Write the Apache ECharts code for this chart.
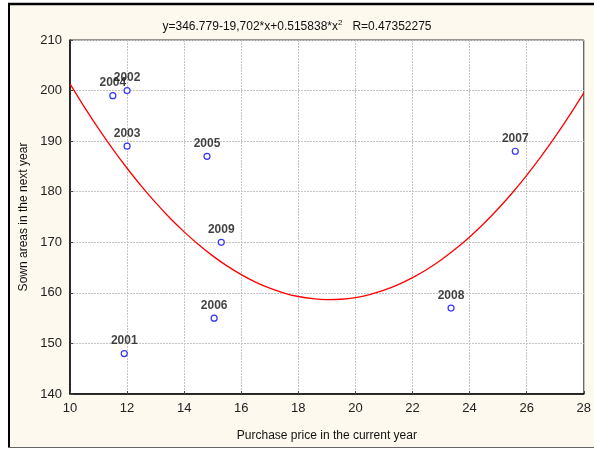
<!DOCTYPE html>
<html>
<head>
<meta charset="utf-8">
<script src="https://cdn.jsdelivr.net/npm/echarts@6/dist/echarts.min.js"></script>
<style>
html,body{margin:0;padding:0;background:#fff;}
#c{width:594px;height:449px;}
</style>
</head>
<body>
<div id="c"></div>
<script>
// Data
const years  = ['2001','2002','2003','2004','2005','2006','2007','2008','2009'];
const prices = [11.9, 12.0, 12.0, 11.5, 14.8, 15.05, 25.6, 23.35, 15.3];
const areas  = [148, 200, 189, 199, 187, 155, 188, 157, 170];

// Fitted curve values
const curveX = [10,10.5,11,11.5,12,12.5,13,13.5,14,14.5,15,15.5,16,16.5,17,17.5,18,18.5,19,19.5,20,20.5,21,21.5,22,22.5,23,23.5,24,24.5,25,25.5,26,26.5,27,27.5,28];
const curveY = [201.34,196.78,192.47,188.43,184.64,181.10,177.83,174.81,172.06,169.56,167.31,165.33,163.60,162.13,160.92,159.97,159.28,158.84,158.66,158.74,159.07,159.67,160.52,161.63,163.00,164.63,166.51,168.65,171.05,173.71,176.63,179.80,183.23,186.92,190.87,195.08,199.54];

const xTicks = [10,12,14,16,18,20,22,24,26,28];
const yTicks = [140,150,160,170,180,190,200,210];

const titleText = 'y=346.779-19,702*x+0.515838*x';
const titleSup = '2';
const titleR = '   R=0.47352275';

const points = years.map((y, i) => [prices[i], areas[i], y]);
const curve = curveX.map((x, i) => [x, curveY[i]]);

const FONT = '"Liberation Sans", Arial, sans-serif';
const chart = echarts.init(document.getElementById('c'), null, {renderer: 'canvas'});
chart.setOption({
  backgroundColor: '#ffffff',
  animation: false,
  graphic: [
    {type: 'rect', z: -10, shape: {x: 9, y: 4, width: 585, height: 443}, style: {fill: '#FDF9EE'}},
    {type: 'line', z: -9, shape: {x1: 9, y1: 3, x2: 9, y2: 447}, style: {stroke: '#000', lineWidth: 2}},
    {type: 'line', z: -9, shape: {x1: 8, y1: 4, x2: 594, y2: 4}, style: {stroke: '#000', lineWidth: 2.5}},
    {type: 'line', z: -9, shape: {x1: 8, y1: 447.5, x2: 594, y2: 447.5}, style: {stroke: '#666', lineWidth: 1}}
  ],
  title: {
    text: '{a|' + titleText + '}{s|' + titleSup + '}{a|' + titleR + '}',
    left: 'center',
    top: 14,
    textStyle: {
      fontWeight: 'normal',
      rich: {
        a: {fontFamily: FONT, fontSize: 12, fontWeight: 'normal', color: '#111', verticalAlign: 'bottom'},
        s: {fontFamily: FONT, fontSize: 8, fontWeight: 'normal', color: '#111', verticalAlign: 'top', padding: [0, 0, 6, 0]}
      }
    }
  },
  grid: {
    left: 70, right: 7, top: 40, bottom: 55,
    show: true, backgroundColor: '#ffffff', borderColor: '#333', borderWidth: 1
  },
  xAxis: {
    type: 'value', min: 10, max: 28, interval: 2,
    name: 'Purchase price in the current year',
    nameLocation: 'middle', nameGap: 36,
    nameTextStyle: {fontFamily: FONT, fontSize: 12, color: '#111'},
    axisLine: {show: true, onZero: false, lineStyle: {color: '#000', width: 1.5}},
    axisTick: {show: true, inside: true, length: 3, lineStyle: {color: '#444'}},
    axisLabel: {fontFamily: FONT, fontSize: 13, color: '#222', margin: 8,
      formatter: v => xTicks.includes(v) ? String(v) : ''},
    splitLine: {show: true, lineStyle: {color: '#c4c4c4', type: [2, 1], width: 1}}
  },
  yAxis: {
    type: 'value', min: 140, max: 210, interval: 10,
    name: 'Sown areas in the next year',
    nameLocation: 'middle', nameGap: 33, nameRotate: 90,
    nameTextStyle: {fontFamily: FONT, fontSize: 12, color: '#111'},
    axisLine: {show: true, onZero: false, lineStyle: {color: '#000', width: 1.5}},
    axisTick: {show: true, inside: true, length: 3, lineStyle: {color: '#444'}},
    axisLabel: {fontFamily: FONT, fontSize: 13, color: '#222', margin: 8,
      formatter: v => yTicks.includes(v) ? String(v) : ''},
    splitLine: {show: true, lineStyle: {color: '#c4c4c4', type: [2, 1], width: 1}}
  },
  series: [
    {
      type: 'line', data: curve, smooth: 0.3, showSymbol: false, symbol: 'none',
      lineStyle: {color: '#ff0000', width: 1.3}, z: 2, silent: true
    },
    {
      type: 'scatter', data: points, symbol: 'circle', symbolSize: 6, z: 3,
      itemStyle: {color: '#ffffff', borderColor: '#0000ff', borderWidth: 1.2},
      label: {
        show: true, position: 'top', distance: 3,
        formatter: p => p.data[2],
        fontFamily: FONT, fontSize: 12, fontWeight: 'bold', color: '#111'
      }
    }
  ]
});
</script>
</body>
</html>
